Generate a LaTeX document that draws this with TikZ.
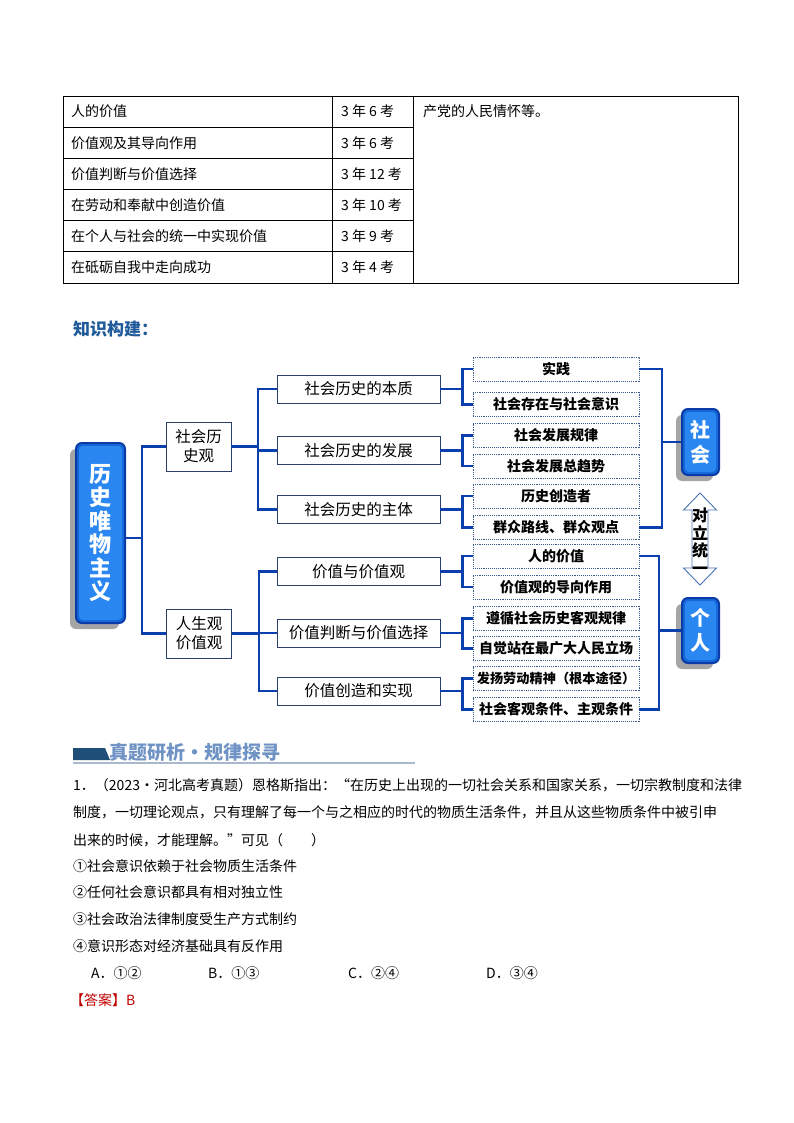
\documentclass[tikz,border=0pt]{standalone}
\usepackage{fontspec}
\setmainfont{Noto Sans CJK SC}
\usetikzlibrary{positioning,shadows}
\definecolor{linkblue}{HTML}{0B3FAE}
\definecolor{boxnavy}{HTML}{2B3F6B}
\definecolor{dotnavy}{HTML}{3A5A8C}
\definecolor{coreblue}{HTML}{1668D8}
\definecolor{corelight}{HTML}{2A86F0}
\definecolor{coreedge}{HTML}{0A3CA8}
\definecolor{unityline}{HTML}{4A72B8}
\definecolor{kbblue}{HTML}{1F5B9A}
\definecolor{headnavy}{HTML}{1F4E79}
\definecolor{headtext}{HTML}{6F93C4}
\definecolor{headrule}{HTML}{A9B8CC}
\definecolor{answerred}{HTML}{C00000}

\begin{document}
\begin{tikzpicture}[x=1pt,y=-1pt,
    link/.style={draw=linkblue, line width=2.4pt},
    cell/.style={anchor=west, inner sep=0pt, font=\fontsize{14}{16}\selectfont},
    view/.style={draw=boxnavy, line width=0.8pt, fill=white, minimum width=65pt, minimum height=49pt, align=center, inner sep=1pt, font=\fontsize{15.5}{19}\selectfont},
    topic/.style={draw=boxnavy, line width=0.8pt, fill=white, minimum width=163pt, minimum height=28pt, inner sep=1pt, font=\fontsize{15.5}{17}\selectfont},
    point/.style={draw=dotnavy, densely dotted, line width=0.9pt, fill=white, minimum width=166pt, minimum height=24pt, inner xsep=1pt, inner ysep=0pt, font=\bfseries\fontsize{14}{16}\selectfont},
    core/.style={draw=coreedge, line width=2pt, fill=coreblue, rounded corners=6pt, text=white, align=center, inner sep=0pt,
        drop shadow={shadow xshift=-6pt, shadow yshift=-6pt, opacity=0.7},
        path picture={\fill[corelight, rounded corners=4pt] ([shift={(3pt,-3pt)}]path picture bounding box.north west)
            rectangle ([shift={(-3pt,3pt)}]path picture bounding box.south east);}},
    qline/.style={anchor=west, inner sep=0pt, font=\fontsize{14}{16}\selectfont}
]
\useasboundingbox[fill=white] (0,0) rectangle (794,1123);

\draw[line width=0.8pt] (63,96) rectangle (738,283);
\foreach \x in {332,413} \draw[line width=0.8pt] (\x,96) -- (\x,283);
\foreach \i in {1,...,5} \draw[line width=0.8pt] (63,96+31.17*\i) -- (413,96+31.17*\i);
\foreach \name/\times [count=\i] in {人的价值/3 年 6 考, 价值观及其导向作用/3 年 6 考, 价值判断与价值选择/3 年 12 考,
    在劳动和奉献中创造价值/3 年 10 考, 在个人与社会的统一中实现价值/3 年 9 考, 在砥砺自我中走向成功/3 年 4 考} {
  \node[cell] (theme\i) at (71,80.4+31.17*\i) {\name};
  \node[cell] (times\i) at (341,80.4+31.17*\i) {\times};
}
\node[cell] (remark) at (423,111.6) {产党的人民情怀等。};

\node[anchor=west, inner sep=0pt, text=kbblue, font=\bfseries\fontsize{17}{19}\selectfont] (build) at (73,329) {知识构建：};

\node[core, minimum width=49pt, minimum height=180pt, font=\bfseries\fontsize{22}{23.5}\selectfont] (core) at (100.5,533) {历\\史\\唯\\物\\主\\义};
\node[view] (hist) at (198.5,446.5) {社会历\\史观};
\node[view] (life) at (199,633.5) {人生观\\价值观};

\node[topic] (essence) at (358.5,389) {社会历史的本质};
\node[topic] (develop) at (358.5,450.5) {社会历史的发展};
\node[topic] (subject) at (358.5,509.5) {社会历史的主体};
\node[topic] (value) at (358.5,571.5) {价值与价值观};
\node[topic] (judge) at (358.5,633) {价值判断与价值选择};
\node[topic] (create) at (358.5,691) {价值创造和实现};

\foreach \t/\y [count=\i] in {实践/369, 社会存在与社会意识/404.5, 社会发展规律/435.5, 社会发展总趋势/466,
    历史创造者/496, 群众路线、群众观点/527.5, 人的价值/556, 价值观的导向作用/587,
    遵循社会历史客观规律/618.5, 自觉站在最广大人民立场/648.5, {\fontsize{13.2}{15}\selectfont 发扬劳动精神（根本途径）}/678.5, 社会客观条件、主观条件/709.5}
  \node[point] (p\i) at (556,\y) {\t};

\node[core, minimum width=37pt, minimum height=66pt, font=\bfseries\fontsize{20}{25}\selectfont] (society) at (700.5,442) {社\\会};
\node[core, minimum width=37pt, minimum height=65pt, font=\bfseries\fontsize{20}{25}\selectfont] (person) at (700.5,630.5) {个\\人};

\draw[unityline, fill=white, line width=0.9pt] (700,493) -- (716.5,510) -- (708,510) -- (708,568) -- (716.5,568) -- (700,585)
    -- (683.5,568) -- (692,568) -- (692,510) -- (683.5,510) -- cycle;
\node[align=center, inner sep=0pt, font=\bfseries\fontsize{16}{17.5}\selectfont] (unity) at (700,541) {对\\立\\统\\一};

\coordinate (mainbar) at (142,538);
\draw[link] (core.east |- mainbar) -- (mainbar);
\draw[link] (hist.west) -| (mainbar) |- (life.west);

\coordinate (histbar) at (258,450);
\draw[link] (hist.east) -- (hist.east -| histbar);
\draw[link] (essence.west) -| (histbar) |- (subject.west);
\draw[link] (develop.west) -- (develop.west -| histbar);

\coordinate (lifebar) at (259,633);
\draw[link] (life.east) -- (life.east -| lifebar);
\draw[link] (value.west) -| (lifebar) |- (create.west);
\draw[link] (judge.west) -- (judge.west -| lifebar);

\foreach \t/\a/\b in {essence/p1/p2, develop/p3/p4, subject/p5/p6, value/p7/p8, judge/p9/p10, create/p11/p12} {
  \coordinate (fork) at ([xshift=22pt]\t.east);
  \draw[link] (\t.east) -- (fork);
  \draw[link] (\a.west) -| (fork) |- (\b.west);
}

\coordinate (socbar) at (662,442);
\draw[link] (p1.east) -| (socbar) |- (p6.east);
\draw[link] (socbar) -- (society.west);
\coordinate (perbar) at (659,630.5);
\draw[link] (p7.east) -| (perbar) |- (p12.east);
\draw[link] (perbar) -- (person.west);

\fill[headnavy] (73,748) -- (105,748) -- (110,760) -- (73,760) -- cycle;
\node[anchor=west, inner sep=0pt, text=headtext, font=\bfseries\fontsize{19}{21}\selectfont] (bankhead) at (109,752) {真题研析·规律探寻};
\draw[headrule, line width=1.2pt] (73,763) -- (415,763);

\node[qline] (q1) at (73,785) {1．（2023·河北高考真题）恩格斯指出：“在历史上出现的一切社会关系和国家关系，一切宗教制度和法律};
\node[qline] (q2) at (73,812.5) {制度，一切理论观点，只有理解了每一个与之相应的时代的物质生活条件，并且从这些物质条件中被引申};
\node[qline] (q3) at (73,840) {出来的时候，才能理解。”可见（　　）};
\node[qline] (s1) at (73,866) {①社会意识依赖于社会物质生活条件};
\node[qline] (s2) at (73,892) {②任何社会意识都具有相对独立性};
\node[qline] (s3) at (73,919) {③社会政治法律制度受生产方式制约};
\node[qline] (s4) at (73,946) {④意识形态对经济基础具有反作用};
\node[qline] (optA) at (91,973) {A．①②};
\node[qline] (optB) at (208,973) {B．①③};
\node[qline] (optC) at (348,973) {C．②④};
\node[qline] (optD) at (486,973) {D．③④};
\node[qline, text=answerred] (answer) at (70,1000) {【答案】B};
\end{tikzpicture}
\end{document}
